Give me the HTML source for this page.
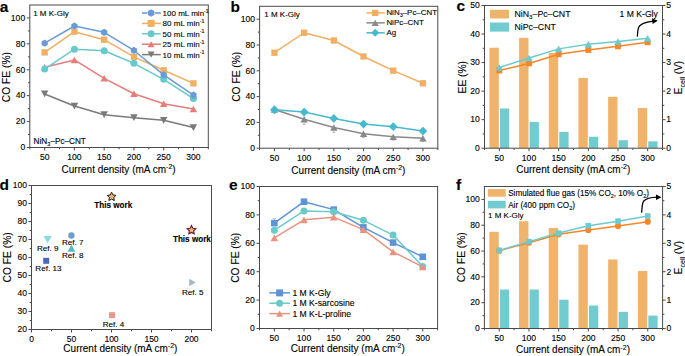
<!DOCTYPE html>
<html><head><meta charset="utf-8"><style>html,body{margin:0;padding:0;background:#fff;width:685px;height:356px;overflow:hidden}svg{display:block}</style></head>
<body><svg width="685" height="356" viewBox="0 0 685 356" font-family="Liberation Sans"><style>text{stroke:#000;stroke-width:0.12px;paint-order:stroke}</style><path d="M44.67,94.00 L74.42,106.05 L104.17,114.72 L133.93,117.70 L163.68,120.30 L193.43,127.55" fill="none" stroke="#7A7A7A" stroke-width="1.5" stroke-linejoin="round"/>
<polygon points="40.92,90.62 48.42,90.62 44.67,97.37" fill="#7A7A7A"/>
<polygon points="70.67,102.67 78.17,102.67 74.42,109.42" fill="#7A7A7A"/>
<polygon points="100.42,111.35 107.92,111.35 104.17,118.10" fill="#7A7A7A"/>
<polygon points="130.18,114.33 137.68,114.33 133.93,121.08" fill="#7A7A7A"/>
<polygon points="159.93,116.92 167.43,116.92 163.68,123.67" fill="#7A7A7A"/>
<polygon points="189.68,124.17 197.18,124.17 193.43,130.93" fill="#7A7A7A"/>
<path d="M44.67,67.18 L74.42,59.93 L104.17,78.32 L133.93,93.74 L163.68,103.71 L193.43,109.03" fill="none" stroke="#E57D7B" stroke-width="1.5" stroke-linejoin="round"/>
<polygon points="40.92,70.44 48.42,70.44 44.67,63.92" fill="#E57D7B"/>
<polygon points="70.67,63.19 78.17,63.19 74.42,56.66" fill="#E57D7B"/>
<polygon points="100.42,81.59 107.92,81.59 104.17,75.06" fill="#E57D7B"/>
<polygon points="130.18,97.00 137.68,97.00 133.93,90.48" fill="#E57D7B"/>
<polygon points="159.93,106.98 167.43,106.98 163.68,100.45" fill="#E57D7B"/>
<polygon points="189.68,112.29 197.18,112.29 193.43,105.76" fill="#E57D7B"/>
<path d="M44.67,69.12 L74.42,49.17 L104.17,50.73 L133.93,63.30 L163.68,79.36 L193.43,98.53" fill="none" stroke="#68C9CC" stroke-width="1.5" stroke-linejoin="round"/>
<circle cx="44.67" cy="69.12" r="3.5" fill="#68C9CC"/>
<circle cx="74.42" cy="49.17" r="3.5" fill="#68C9CC"/>
<circle cx="104.17" cy="50.73" r="3.5" fill="#68C9CC"/>
<circle cx="133.93" cy="63.30" r="3.5" fill="#68C9CC"/>
<circle cx="163.68" cy="79.36" r="3.5" fill="#68C9CC"/>
<circle cx="193.43" cy="98.53" r="3.5" fill="#68C9CC"/>
<path d="M44.67,52.41 L74.42,31.69 L104.17,39.72 L133.93,56.82 L163.68,70.29 L193.43,83.38" fill="none" stroke="#F0AF62" stroke-width="1.5" stroke-linejoin="round"/>
<rect x="41.52" y="49.26" width="6.3" height="6.3" fill="#F0AF62"/>
<rect x="71.27" y="28.54" width="6.3" height="6.3" fill="#F0AF62"/>
<rect x="101.02" y="36.57" width="6.3" height="6.3" fill="#F0AF62"/>
<rect x="130.78" y="53.67" width="6.3" height="6.3" fill="#F0AF62"/>
<rect x="160.53" y="67.14" width="6.3" height="6.3" fill="#F0AF62"/>
<rect x="190.28" y="80.22" width="6.3" height="6.3" fill="#F0AF62"/>
<path d="M44.67,43.22 L74.42,25.99 L104.17,32.33 L133.93,50.47 L163.68,74.95 L193.43,95.03" fill="none" stroke="#6B9BD6" stroke-width="1.5" stroke-linejoin="round"/>
<polygon points="44.67,39.62 41.56,41.42 41.56,45.02 44.67,46.82 47.79,45.02 47.79,41.42" fill="#6B9BD6"/>
<polygon points="74.42,22.39 71.31,24.19 71.31,27.79 74.42,29.59 77.54,27.79 77.54,24.19" fill="#6B9BD6"/>
<polygon points="104.17,28.73 101.06,30.53 101.06,34.13 104.17,35.93 107.29,34.13 107.29,30.53" fill="#6B9BD6"/>
<polygon points="133.93,46.87 130.81,48.67 130.81,52.27 133.93,54.07 137.04,52.27 137.04,48.67" fill="#6B9BD6"/>
<polygon points="163.68,71.35 160.56,73.15 160.56,76.75 163.68,78.55 166.79,76.75 166.79,73.15" fill="#6B9BD6"/>
<polygon points="193.43,91.43 190.31,93.23 190.31,96.83 193.43,98.63 196.54,96.83 196.54,93.23" fill="#6B9BD6"/>
<rect x="29.80" y="5.00" width="178.50" height="142.50" fill="none" stroke="#4a4a4a" stroke-width="1"/>
<line x1="44.67" y1="147.50" x2="44.67" y2="150.50" stroke="#4a4a4a" stroke-width="1"/>
<text x="44.67" y="159.50" font-size="8.6" text-anchor="middle" font-weight="normal" fill="#000" >50</text>
<line x1="74.42" y1="147.50" x2="74.42" y2="150.50" stroke="#4a4a4a" stroke-width="1"/>
<text x="74.42" y="159.50" font-size="8.6" text-anchor="middle" font-weight="normal" fill="#000" >100</text>
<line x1="104.17" y1="147.50" x2="104.17" y2="150.50" stroke="#4a4a4a" stroke-width="1"/>
<text x="104.17" y="159.50" font-size="8.6" text-anchor="middle" font-weight="normal" fill="#000" >150</text>
<line x1="133.93" y1="147.50" x2="133.93" y2="150.50" stroke="#4a4a4a" stroke-width="1"/>
<text x="133.93" y="159.50" font-size="8.6" text-anchor="middle" font-weight="normal" fill="#000" >200</text>
<line x1="163.68" y1="147.50" x2="163.68" y2="150.50" stroke="#4a4a4a" stroke-width="1"/>
<text x="163.68" y="159.50" font-size="8.6" text-anchor="middle" font-weight="normal" fill="#000" >250</text>
<line x1="193.43" y1="147.50" x2="193.43" y2="150.50" stroke="#4a4a4a" stroke-width="1"/>
<text x="193.43" y="159.50" font-size="8.6" text-anchor="middle" font-weight="normal" fill="#000" >300</text>
<line x1="29.80" y1="147.50" x2="29.80" y2="149.30" stroke="#4a4a4a" stroke-width="1"/>
<line x1="59.55" y1="147.50" x2="59.55" y2="149.30" stroke="#4a4a4a" stroke-width="1"/>
<line x1="89.30" y1="147.50" x2="89.30" y2="149.30" stroke="#4a4a4a" stroke-width="1"/>
<line x1="119.05" y1="147.50" x2="119.05" y2="149.30" stroke="#4a4a4a" stroke-width="1"/>
<line x1="148.80" y1="147.50" x2="148.80" y2="149.30" stroke="#4a4a4a" stroke-width="1"/>
<line x1="178.55" y1="147.50" x2="178.55" y2="149.30" stroke="#4a4a4a" stroke-width="1"/>
<line x1="208.30" y1="147.50" x2="208.30" y2="149.30" stroke="#4a4a4a" stroke-width="1"/>
<line x1="26.80" y1="147.50" x2="29.80" y2="147.50" stroke="#4a4a4a" stroke-width="1"/>
<text x="25.20" y="150.30" font-size="8.6" text-anchor="end" font-weight="normal" fill="#000" >0</text>
<line x1="26.80" y1="121.59" x2="29.80" y2="121.59" stroke="#4a4a4a" stroke-width="1"/>
<text x="25.20" y="124.39" font-size="8.6" text-anchor="end" font-weight="normal" fill="#000" >20</text>
<line x1="26.80" y1="95.68" x2="29.80" y2="95.68" stroke="#4a4a4a" stroke-width="1"/>
<text x="25.20" y="98.48" font-size="8.6" text-anchor="end" font-weight="normal" fill="#000" >40</text>
<line x1="26.80" y1="69.77" x2="29.80" y2="69.77" stroke="#4a4a4a" stroke-width="1"/>
<text x="25.20" y="72.57" font-size="8.6" text-anchor="end" font-weight="normal" fill="#000" >60</text>
<line x1="26.80" y1="43.86" x2="29.80" y2="43.86" stroke="#4a4a4a" stroke-width="1"/>
<text x="25.20" y="46.66" font-size="8.6" text-anchor="end" font-weight="normal" fill="#000" >80</text>
<line x1="26.80" y1="17.95" x2="29.80" y2="17.95" stroke="#4a4a4a" stroke-width="1"/>
<text x="25.20" y="20.75" font-size="8.6" text-anchor="end" font-weight="normal" fill="#000" >100</text>
<line x1="28.00" y1="134.55" x2="29.80" y2="134.55" stroke="#4a4a4a" stroke-width="1"/>
<line x1="28.00" y1="108.64" x2="29.80" y2="108.64" stroke="#4a4a4a" stroke-width="1"/>
<line x1="28.00" y1="82.73" x2="29.80" y2="82.73" stroke="#4a4a4a" stroke-width="1"/>
<line x1="28.00" y1="56.82" x2="29.80" y2="56.82" stroke="#4a4a4a" stroke-width="1"/>
<line x1="28.00" y1="30.91" x2="29.80" y2="30.91" stroke="#4a4a4a" stroke-width="1"/>
<text x="118.60" y="172.50" font-size="10" text-anchor="middle">Current density (mA cm<tspan dy="-3.8" font-size="7.00">-2</tspan><tspan dy="3.8">)</tspan></text>
<text transform="translate(10.30,77.10) rotate(-90)" font-size="10.25" text-anchor="middle">CO FE (%)</text>
<text x="33.20" y="15.80" font-size="8" text-anchor="start" font-weight="normal" fill="#000" >1 M K-Gly</text>
<text x="33.60" y="143.60" font-size="8.2" text-anchor="start" font-weight="normal" fill="#000" >NiN<tspan dy="2.3" font-size="5.6">3</tspan><tspan dy="-2.3">–Pc–CNT</tspan></text>
<line x1="142.00" y1="13.00" x2="147.40" y2="13.00" stroke="#6B9BD6" stroke-width="1.6"/>
<line x1="154.90" y1="13.00" x2="160.80" y2="13.00" stroke="#6B9BD6" stroke-width="1.6"/>
<polygon points="151.10,9.20 147.81,11.10 147.81,14.90 151.10,16.80 154.39,14.90 154.39,11.10" fill="#6B9BD6"/>
<text x="162.60" y="15.90" font-size="8" text-anchor="start" font-weight="normal" fill="#000" >100 mL min<tspan dy="-3.4" font-size="5.2">-1</tspan></text>
<line x1="142.00" y1="23.40" x2="160.80" y2="23.40" stroke="#F0AF62" stroke-width="1.5"/>
<rect x="147.60" y="19.90" width="7" height="7" fill="#F0AF62"/>
<text x="162.60" y="26.30" font-size="8" text-anchor="start" font-weight="normal" fill="#000" >80 mL min<tspan dy="-3.4" font-size="5.2">-1</tspan></text>
<line x1="142.00" y1="33.80" x2="160.80" y2="33.80" stroke="#68C9CC" stroke-width="1.5"/>
<circle cx="151.10" cy="33.80" r="3.5" fill="#68C9CC"/>
<text x="162.60" y="36.70" font-size="8" text-anchor="start" font-weight="normal" fill="#000" >50 mL min<tspan dy="-3.4" font-size="5.2">-1</tspan></text>
<line x1="142.00" y1="44.20" x2="160.80" y2="44.20" stroke="#E57D7B" stroke-width="1.5"/>
<polygon points="147.60,47.25 154.60,47.25 151.10,41.16" fill="#E57D7B"/>
<text x="162.60" y="47.10" font-size="8" text-anchor="start" font-weight="normal" fill="#000" >25 mL min<tspan dy="-3.4" font-size="5.2">-1</tspan></text>
<line x1="142.00" y1="54.60" x2="160.80" y2="54.60" stroke="#7A7A7A" stroke-width="1.5"/>
<polygon points="147.60,51.45 154.60,51.45 151.10,57.75" fill="#7A7A7A"/>
<text x="162.60" y="57.50" font-size="8" text-anchor="start" font-weight="normal" fill="#000" >10 mL min<tspan dy="-3.4" font-size="5.2">-1</tspan></text>
<text x="-0.30" y="11.50" font-size="15.5" text-anchor="start" font-weight="bold" fill="#000" >a</text>
<line x1="304.15" y1="119.17" x2="304.15" y2="124.32" stroke="#B4B4B4" stroke-width="0.9"/>
<line x1="302.55" y1="124.32" x2="305.75" y2="124.32" stroke="#B4B4B4" stroke-width="0.9"/>
<line x1="333.85" y1="127.56" x2="333.85" y2="132.45" stroke="#B4B4B4" stroke-width="0.9"/>
<line x1="332.25" y1="132.45" x2="335.45" y2="132.45" stroke="#B4B4B4" stroke-width="0.9"/>
<line x1="363.55" y1="133.75" x2="363.55" y2="137.61" stroke="#B4B4B4" stroke-width="0.9"/>
<line x1="361.95" y1="137.61" x2="365.15" y2="137.61" stroke="#B4B4B4" stroke-width="0.9"/>
<line x1="393.25" y1="136.85" x2="393.25" y2="140.19" stroke="#B4B4B4" stroke-width="0.9"/>
<line x1="391.65" y1="140.19" x2="394.85" y2="140.19" stroke="#B4B4B4" stroke-width="0.9"/>
<line x1="422.95" y1="138.27" x2="422.95" y2="141.35" stroke="#B4B4B4" stroke-width="0.9"/>
<line x1="421.35" y1="141.35" x2="424.55" y2="141.35" stroke="#B4B4B4" stroke-width="0.9"/>
<path d="M274.45,109.50 L304.15,119.17 L333.85,127.56 L363.55,133.75 L393.25,136.85 L422.95,138.27" fill="none" stroke="#8A8A8A" stroke-width="1.5" stroke-linejoin="round"/>
<polygon points="270.75,112.72 278.15,112.72 274.45,106.28" fill="#8A8A8A"/>
<polygon points="300.45,122.39 307.85,122.39 304.15,115.96" fill="#8A8A8A"/>
<polygon points="330.15,130.78 337.55,130.78 333.85,124.34" fill="#8A8A8A"/>
<polygon points="359.85,136.97 367.25,136.97 363.55,130.53" fill="#8A8A8A"/>
<polygon points="389.55,140.07 396.95,140.07 393.25,133.63" fill="#8A8A8A"/>
<polygon points="419.25,141.49 426.65,141.49 422.95,135.05" fill="#8A8A8A"/>
<path d="M274.45,52.74 L304.15,32.75 L333.85,40.49 L363.55,56.48 L393.25,70.67 L422.95,83.31" fill="none" stroke="#F0AF62" stroke-width="1.5" stroke-linejoin="round"/>
<rect x="271.30" y="49.59" width="6.3" height="6.3" fill="#F0AF62"/>
<rect x="301.00" y="29.60" width="6.3" height="6.3" fill="#F0AF62"/>
<rect x="330.70" y="37.34" width="6.3" height="6.3" fill="#F0AF62"/>
<rect x="360.40" y="53.33" width="6.3" height="6.3" fill="#F0AF62"/>
<rect x="390.10" y="67.52" width="6.3" height="6.3" fill="#F0AF62"/>
<rect x="419.80" y="80.16" width="6.3" height="6.3" fill="#F0AF62"/>
<path d="M274.45,109.76 L304.15,112.08 L333.85,118.40 L363.55,124.08 L393.25,126.66 L422.95,131.04" fill="none" stroke="#47B8CE" stroke-width="1.5" stroke-linejoin="round"/>
<polygon points="274.45,105.36 278.85,109.76 274.45,114.16 270.05,109.76" fill="#47B8CE"/>
<polygon points="304.15,107.68 308.55,112.08 304.15,116.48 299.75,112.08" fill="#47B8CE"/>
<polygon points="333.85,114.00 338.25,118.40 333.85,122.80 329.45,118.40" fill="#47B8CE"/>
<polygon points="363.55,119.68 367.95,124.08 363.55,128.48 359.15,124.08" fill="#47B8CE"/>
<polygon points="393.25,122.26 397.65,126.66 393.25,131.06 388.85,126.66" fill="#47B8CE"/>
<polygon points="422.95,126.64 427.35,131.04 422.95,135.44 418.55,131.04" fill="#47B8CE"/>
<rect x="259.60" y="6.30" width="178.20" height="141.90" fill="none" stroke="#4a4a4a" stroke-width="1"/>
<line x1="274.45" y1="148.20" x2="274.45" y2="151.20" stroke="#4a4a4a" stroke-width="1"/>
<text x="274.45" y="160.70" font-size="8.6" text-anchor="middle" font-weight="normal" fill="#000" >50</text>
<line x1="304.15" y1="148.20" x2="304.15" y2="151.20" stroke="#4a4a4a" stroke-width="1"/>
<text x="304.15" y="160.70" font-size="8.6" text-anchor="middle" font-weight="normal" fill="#000" >100</text>
<line x1="333.85" y1="148.20" x2="333.85" y2="151.20" stroke="#4a4a4a" stroke-width="1"/>
<text x="333.85" y="160.70" font-size="8.6" text-anchor="middle" font-weight="normal" fill="#000" >150</text>
<line x1="363.55" y1="148.20" x2="363.55" y2="151.20" stroke="#4a4a4a" stroke-width="1"/>
<text x="363.55" y="160.70" font-size="8.6" text-anchor="middle" font-weight="normal" fill="#000" >200</text>
<line x1="393.25" y1="148.20" x2="393.25" y2="151.20" stroke="#4a4a4a" stroke-width="1"/>
<text x="393.25" y="160.70" font-size="8.6" text-anchor="middle" font-weight="normal" fill="#000" >250</text>
<line x1="422.95" y1="148.20" x2="422.95" y2="151.20" stroke="#4a4a4a" stroke-width="1"/>
<text x="422.95" y="160.70" font-size="8.6" text-anchor="middle" font-weight="normal" fill="#000" >300</text>
<line x1="259.60" y1="148.20" x2="259.60" y2="150.00" stroke="#4a4a4a" stroke-width="1"/>
<line x1="289.30" y1="148.20" x2="289.30" y2="150.00" stroke="#4a4a4a" stroke-width="1"/>
<line x1="319.00" y1="148.20" x2="319.00" y2="150.00" stroke="#4a4a4a" stroke-width="1"/>
<line x1="348.70" y1="148.20" x2="348.70" y2="150.00" stroke="#4a4a4a" stroke-width="1"/>
<line x1="378.40" y1="148.20" x2="378.40" y2="150.00" stroke="#4a4a4a" stroke-width="1"/>
<line x1="408.10" y1="148.20" x2="408.10" y2="150.00" stroke="#4a4a4a" stroke-width="1"/>
<line x1="437.80" y1="148.20" x2="437.80" y2="150.00" stroke="#4a4a4a" stroke-width="1"/>
<line x1="256.60" y1="148.20" x2="259.60" y2="148.20" stroke="#4a4a4a" stroke-width="1"/>
<text x="255.00" y="151.00" font-size="8.6" text-anchor="end" font-weight="normal" fill="#000" >0</text>
<line x1="256.60" y1="122.40" x2="259.60" y2="122.40" stroke="#4a4a4a" stroke-width="1"/>
<text x="255.00" y="125.20" font-size="8.6" text-anchor="end" font-weight="normal" fill="#000" >20</text>
<line x1="256.60" y1="96.60" x2="259.60" y2="96.60" stroke="#4a4a4a" stroke-width="1"/>
<text x="255.00" y="99.40" font-size="8.6" text-anchor="end" font-weight="normal" fill="#000" >40</text>
<line x1="256.60" y1="70.80" x2="259.60" y2="70.80" stroke="#4a4a4a" stroke-width="1"/>
<text x="255.00" y="73.60" font-size="8.6" text-anchor="end" font-weight="normal" fill="#000" >60</text>
<line x1="256.60" y1="45.00" x2="259.60" y2="45.00" stroke="#4a4a4a" stroke-width="1"/>
<text x="255.00" y="47.80" font-size="8.6" text-anchor="end" font-weight="normal" fill="#000" >80</text>
<line x1="256.60" y1="19.20" x2="259.60" y2="19.20" stroke="#4a4a4a" stroke-width="1"/>
<text x="255.00" y="22.00" font-size="8.6" text-anchor="end" font-weight="normal" fill="#000" >100</text>
<line x1="257.80" y1="135.30" x2="259.60" y2="135.30" stroke="#4a4a4a" stroke-width="1"/>
<line x1="257.80" y1="109.50" x2="259.60" y2="109.50" stroke="#4a4a4a" stroke-width="1"/>
<line x1="257.80" y1="83.70" x2="259.60" y2="83.70" stroke="#4a4a4a" stroke-width="1"/>
<line x1="257.80" y1="57.90" x2="259.60" y2="57.90" stroke="#4a4a4a" stroke-width="1"/>
<line x1="257.80" y1="32.10" x2="259.60" y2="32.10" stroke="#4a4a4a" stroke-width="1"/>
<text x="348.40" y="174.10" font-size="10" text-anchor="middle">Current density (mA cm<tspan dy="-3.8" font-size="7.00">-2</tspan><tspan dy="3.8">)</tspan></text>
<text transform="translate(239.60,76.80) rotate(-90)" font-size="10.25" text-anchor="middle">CO FE (%)</text>
<text x="264.30" y="16.60" font-size="8" text-anchor="start" font-weight="normal" fill="#000" >1 M K-Gly</text>
<line x1="366.40" y1="12.90" x2="384.80" y2="12.90" stroke="#F0AF62" stroke-width="1.5"/>
<rect x="372.05" y="9.75" width="6.3" height="6.3" fill="#F0AF62"/>
<text x="386.40" y="15.40" font-size="7.95" text-anchor="start" font-weight="normal" fill="#000" >NiN<tspan dy="2" font-size="5.5">3</tspan><tspan dy="-2">–Pc–CNT</tspan></text>
<line x1="366.40" y1="22.85" x2="384.80" y2="22.85" stroke="#8A8A8A" stroke-width="1.5"/>
<polygon points="371.60,25.98 378.80,25.98 375.20,19.72" fill="#8A8A8A"/>
<text x="386.40" y="25.35" font-size="7.95" text-anchor="start" font-weight="normal" fill="#000" >NiPc–CNT</text>
<line x1="366.40" y1="32.80" x2="384.80" y2="32.80" stroke="#47B8CE" stroke-width="1.5"/>
<polygon points="375.20,28.80 379.20,32.80 375.20,36.80 371.20,32.80" fill="#47B8CE"/>
<text x="386.40" y="35.30" font-size="7.95" text-anchor="start" font-weight="normal" fill="#000" >Ag</text>
<text x="230.50" y="11.50" font-size="15.5" text-anchor="start" font-weight="bold" fill="#000" >b</text>
<rect x="489.43" y="47.74" width="9.4" height="100.46" fill="#EFB36C"/>
<rect x="519.10" y="37.75" width="9.4" height="110.45" fill="#EFB36C"/>
<rect x="548.77" y="52.88" width="9.4" height="95.32" fill="#EFB36C"/>
<rect x="578.43" y="77.99" width="9.4" height="70.21" fill="#EFB36C"/>
<rect x="608.10" y="96.83" width="9.4" height="51.37" fill="#EFB36C"/>
<rect x="637.77" y="107.96" width="9.4" height="40.24" fill="#EFB36C"/>
<rect x="499.93" y="108.53" width="9.3" height="39.67" fill="#72CBCF"/>
<rect x="529.60" y="121.94" width="9.3" height="26.26" fill="#72CBCF"/>
<rect x="559.27" y="131.93" width="9.3" height="16.27" fill="#72CBCF"/>
<rect x="588.93" y="136.78" width="9.3" height="11.42" fill="#72CBCF"/>
<rect x="618.60" y="140.21" width="9.3" height="7.99" fill="#72CBCF"/>
<rect x="648.27" y="141.35" width="9.3" height="6.85" fill="#72CBCF"/>
<path d="M499.33,70.57 L529.00,63.44 L558.67,54.30 L588.33,50.02 L618.00,46.31 L647.67,42.32" fill="none" stroke="#F5862A" stroke-width="1.5" stroke-linejoin="round"/>
<rect x="496.43" y="67.67" width="5.8" height="5.8" fill="#F5862A"/>
<rect x="526.10" y="60.54" width="5.8" height="5.8" fill="#F5862A"/>
<rect x="555.77" y="51.40" width="5.8" height="5.8" fill="#F5862A"/>
<rect x="585.43" y="47.12" width="5.8" height="5.8" fill="#F5862A"/>
<rect x="615.10" y="43.41" width="5.8" height="5.8" fill="#F5862A"/>
<rect x="644.77" y="39.42" width="5.8" height="5.8" fill="#F5862A"/>
<path d="M499.33,67.43 L529.00,58.01 L558.67,48.88 L588.33,44.31 L618.00,41.46 L647.67,38.32" fill="none" stroke="#6DCACF" stroke-width="1.5" stroke-linejoin="round"/>
<polygon points="495.53,70.74 503.13,70.74 499.33,64.13" fill="#6DCACF"/>
<polygon points="525.20,61.32 532.80,61.32 529.00,54.71" fill="#6DCACF"/>
<polygon points="554.87,52.19 562.47,52.19 558.67,45.57" fill="#6DCACF"/>
<polygon points="584.53,47.62 592.13,47.62 588.33,41.01" fill="#6DCACF"/>
<polygon points="614.20,44.77 621.80,44.77 618.00,38.15" fill="#6DCACF"/>
<polygon points="643.87,41.63 651.47,41.63 647.67,35.02" fill="#6DCACF"/>
<rect x="484.50" y="5.50" width="178.00" height="142.70" fill="none" stroke="#4a4a4a" stroke-width="1"/>
<line x1="499.33" y1="148.20" x2="499.33" y2="151.20" stroke="#4a4a4a" stroke-width="1"/>
<text x="499.33" y="160.70" font-size="8.6" text-anchor="middle" font-weight="normal" fill="#000" >50</text>
<line x1="529.00" y1="148.20" x2="529.00" y2="151.20" stroke="#4a4a4a" stroke-width="1"/>
<text x="529.00" y="160.70" font-size="8.6" text-anchor="middle" font-weight="normal" fill="#000" >100</text>
<line x1="558.67" y1="148.20" x2="558.67" y2="151.20" stroke="#4a4a4a" stroke-width="1"/>
<text x="558.67" y="160.70" font-size="8.6" text-anchor="middle" font-weight="normal" fill="#000" >150</text>
<line x1="588.33" y1="148.20" x2="588.33" y2="151.20" stroke="#4a4a4a" stroke-width="1"/>
<text x="588.33" y="160.70" font-size="8.6" text-anchor="middle" font-weight="normal" fill="#000" >200</text>
<line x1="618.00" y1="148.20" x2="618.00" y2="151.20" stroke="#4a4a4a" stroke-width="1"/>
<text x="618.00" y="160.70" font-size="8.6" text-anchor="middle" font-weight="normal" fill="#000" >250</text>
<line x1="647.67" y1="148.20" x2="647.67" y2="151.20" stroke="#4a4a4a" stroke-width="1"/>
<text x="647.67" y="160.70" font-size="8.6" text-anchor="middle" font-weight="normal" fill="#000" >300</text>
<line x1="484.50" y1="148.20" x2="484.50" y2="150.00" stroke="#4a4a4a" stroke-width="1"/>
<line x1="514.17" y1="148.20" x2="514.17" y2="150.00" stroke="#4a4a4a" stroke-width="1"/>
<line x1="543.83" y1="148.20" x2="543.83" y2="150.00" stroke="#4a4a4a" stroke-width="1"/>
<line x1="573.50" y1="148.20" x2="573.50" y2="150.00" stroke="#4a4a4a" stroke-width="1"/>
<line x1="603.17" y1="148.20" x2="603.17" y2="150.00" stroke="#4a4a4a" stroke-width="1"/>
<line x1="632.83" y1="148.20" x2="632.83" y2="150.00" stroke="#4a4a4a" stroke-width="1"/>
<line x1="662.50" y1="148.20" x2="662.50" y2="150.00" stroke="#4a4a4a" stroke-width="1"/>
<line x1="481.50" y1="148.20" x2="484.50" y2="148.20" stroke="#4a4a4a" stroke-width="1"/>
<text x="479.90" y="151.00" font-size="8.6" text-anchor="end" font-weight="normal" fill="#000" >0</text>
<line x1="481.50" y1="119.66" x2="484.50" y2="119.66" stroke="#4a4a4a" stroke-width="1"/>
<text x="479.90" y="122.46" font-size="8.6" text-anchor="end" font-weight="normal" fill="#000" >10</text>
<line x1="481.50" y1="91.12" x2="484.50" y2="91.12" stroke="#4a4a4a" stroke-width="1"/>
<text x="479.90" y="93.92" font-size="8.6" text-anchor="end" font-weight="normal" fill="#000" >20</text>
<line x1="481.50" y1="62.58" x2="484.50" y2="62.58" stroke="#4a4a4a" stroke-width="1"/>
<text x="479.90" y="65.38" font-size="8.6" text-anchor="end" font-weight="normal" fill="#000" >30</text>
<line x1="481.50" y1="34.04" x2="484.50" y2="34.04" stroke="#4a4a4a" stroke-width="1"/>
<text x="479.90" y="36.84" font-size="8.6" text-anchor="end" font-weight="normal" fill="#000" >40</text>
<line x1="481.50" y1="5.50" x2="484.50" y2="5.50" stroke="#4a4a4a" stroke-width="1"/>
<text x="479.90" y="8.30" font-size="8.6" text-anchor="end" font-weight="normal" fill="#000" >50</text>
<line x1="482.70" y1="133.93" x2="484.50" y2="133.93" stroke="#4a4a4a" stroke-width="1"/>
<line x1="482.70" y1="105.39" x2="484.50" y2="105.39" stroke="#4a4a4a" stroke-width="1"/>
<line x1="482.70" y1="76.85" x2="484.50" y2="76.85" stroke="#4a4a4a" stroke-width="1"/>
<line x1="482.70" y1="48.31" x2="484.50" y2="48.31" stroke="#4a4a4a" stroke-width="1"/>
<line x1="482.70" y1="19.77" x2="484.50" y2="19.77" stroke="#4a4a4a" stroke-width="1"/>
<line x1="662.50" y1="148.20" x2="665.50" y2="148.20" stroke="#4a4a4a" stroke-width="1"/>
<text x="666.30" y="151.00" font-size="8.6" text-anchor="start" font-weight="normal" fill="#000" >0</text>
<line x1="662.50" y1="119.66" x2="665.50" y2="119.66" stroke="#4a4a4a" stroke-width="1"/>
<text x="666.30" y="122.46" font-size="8.6" text-anchor="start" font-weight="normal" fill="#000" >1</text>
<line x1="662.50" y1="91.12" x2="665.50" y2="91.12" stroke="#4a4a4a" stroke-width="1"/>
<text x="666.30" y="93.92" font-size="8.6" text-anchor="start" font-weight="normal" fill="#000" >2</text>
<line x1="662.50" y1="62.58" x2="665.50" y2="62.58" stroke="#4a4a4a" stroke-width="1"/>
<text x="666.30" y="65.38" font-size="8.6" text-anchor="start" font-weight="normal" fill="#000" >3</text>
<line x1="662.50" y1="34.04" x2="665.50" y2="34.04" stroke="#4a4a4a" stroke-width="1"/>
<text x="666.30" y="36.84" font-size="8.6" text-anchor="start" font-weight="normal" fill="#000" >4</text>
<line x1="662.50" y1="5.50" x2="665.50" y2="5.50" stroke="#4a4a4a" stroke-width="1"/>
<text x="666.30" y="8.30" font-size="8.6" text-anchor="start" font-weight="normal" fill="#000" >5</text>
<line x1="662.50" y1="133.93" x2="664.30" y2="133.93" stroke="#4a4a4a" stroke-width="1"/>
<line x1="662.50" y1="105.39" x2="664.30" y2="105.39" stroke="#4a4a4a" stroke-width="1"/>
<line x1="662.50" y1="76.85" x2="664.30" y2="76.85" stroke="#4a4a4a" stroke-width="1"/>
<line x1="662.50" y1="48.31" x2="664.30" y2="48.31" stroke="#4a4a4a" stroke-width="1"/>
<line x1="662.50" y1="19.77" x2="664.30" y2="19.77" stroke="#4a4a4a" stroke-width="1"/>
<text x="573.20" y="172.50" font-size="10" text-anchor="middle">Current density (mA cm<tspan dy="-3.8" font-size="7.00">-2</tspan><tspan dy="3.8">)</tspan></text>
<text transform="translate(465.60,77.20) rotate(-90)" font-size="10.25" text-anchor="middle">EE (%)</text>
<text transform="translate(682,77.5) rotate(-90)" font-size="10" text-anchor="middle">E<tspan dy="2.5" font-size="7">cell</tspan><tspan dy="-2.5"> (V)</tspan></text>
<rect x="490" y="9.8" width="19" height="8.7" fill="#EFB36C"/>
<rect x="490" y="22.5" width="19" height="9.1" fill="#72CBCF"/>
<text x="514.50" y="17.20" font-size="8.75" text-anchor="start" font-weight="normal" fill="#000" >NiN<tspan dy="2.2" font-size="6.2">3</tspan><tspan dy="-2.2">–Pc–CNT</tspan></text>
<text x="514.50" y="29.90" font-size="8.75" text-anchor="start" font-weight="normal" fill="#000" >NiPc–CNT</text>
<text x="619.60" y="16.70" font-size="8.6" text-anchor="start" font-weight="normal" fill="#000" >1 M K-Gly</text>
<path d="M637.3,36.6 C637.9,32 637.4,28.5 639.5,26 C642.5,22.8 647,21.8 653.5,21.1" fill="none" stroke="#000" stroke-width="1.25"/>
<polygon points="657.8,20.7 652,18.2 652.6,24" fill="#000"/>
<text x="456.50" y="11.30" font-size="15.5" text-anchor="start" font-weight="bold" fill="#000" >c</text>
<rect x="31.50" y="185.50" width="180.00" height="144.00" fill="none" stroke="#4a4a4a" stroke-width="1"/>
<line x1="31.50" y1="329.50" x2="31.50" y2="332.50" stroke="#4a4a4a" stroke-width="1"/>
<text x="31.50" y="342.00" font-size="8.5" text-anchor="middle" font-weight="normal" fill="#000" >0</text>
<line x1="71.50" y1="329.50" x2="71.50" y2="332.50" stroke="#4a4a4a" stroke-width="1"/>
<text x="71.50" y="342.00" font-size="8.5" text-anchor="middle" font-weight="normal" fill="#000" >50</text>
<line x1="111.50" y1="329.50" x2="111.50" y2="332.50" stroke="#4a4a4a" stroke-width="1"/>
<text x="111.50" y="342.00" font-size="8.5" text-anchor="middle" font-weight="normal" fill="#000" >100</text>
<line x1="151.50" y1="329.50" x2="151.50" y2="332.50" stroke="#4a4a4a" stroke-width="1"/>
<text x="151.50" y="342.00" font-size="8.5" text-anchor="middle" font-weight="normal" fill="#000" >150</text>
<line x1="191.50" y1="329.50" x2="191.50" y2="332.50" stroke="#4a4a4a" stroke-width="1"/>
<text x="191.50" y="342.00" font-size="8.5" text-anchor="middle" font-weight="normal" fill="#000" >200</text>
<line x1="51.50" y1="329.50" x2="51.50" y2="331.30" stroke="#4a4a4a" stroke-width="1"/>
<line x1="91.50" y1="329.50" x2="91.50" y2="331.30" stroke="#4a4a4a" stroke-width="1"/>
<line x1="131.50" y1="329.50" x2="131.50" y2="331.30" stroke="#4a4a4a" stroke-width="1"/>
<line x1="171.50" y1="329.50" x2="171.50" y2="331.30" stroke="#4a4a4a" stroke-width="1"/>
<line x1="211.50" y1="329.50" x2="211.50" y2="331.30" stroke="#4a4a4a" stroke-width="1"/>
<line x1="28.50" y1="329.50" x2="31.50" y2="329.50" stroke="#4a4a4a" stroke-width="1"/>
<text x="26.90" y="332.30" font-size="8.5" text-anchor="end" font-weight="normal" fill="#000" >20</text>
<line x1="28.50" y1="311.50" x2="31.50" y2="311.50" stroke="#4a4a4a" stroke-width="1"/>
<text x="26.90" y="314.30" font-size="8.5" text-anchor="end" font-weight="normal" fill="#000" >30</text>
<line x1="28.50" y1="293.50" x2="31.50" y2="293.50" stroke="#4a4a4a" stroke-width="1"/>
<text x="26.90" y="296.30" font-size="8.5" text-anchor="end" font-weight="normal" fill="#000" >40</text>
<line x1="28.50" y1="275.50" x2="31.50" y2="275.50" stroke="#4a4a4a" stroke-width="1"/>
<text x="26.90" y="278.30" font-size="8.5" text-anchor="end" font-weight="normal" fill="#000" >50</text>
<line x1="28.50" y1="257.50" x2="31.50" y2="257.50" stroke="#4a4a4a" stroke-width="1"/>
<text x="26.90" y="260.30" font-size="8.5" text-anchor="end" font-weight="normal" fill="#000" >60</text>
<line x1="28.50" y1="239.50" x2="31.50" y2="239.50" stroke="#4a4a4a" stroke-width="1"/>
<text x="26.90" y="242.30" font-size="8.5" text-anchor="end" font-weight="normal" fill="#000" >70</text>
<line x1="28.50" y1="221.50" x2="31.50" y2="221.50" stroke="#4a4a4a" stroke-width="1"/>
<text x="26.90" y="224.30" font-size="8.5" text-anchor="end" font-weight="normal" fill="#000" >80</text>
<line x1="28.50" y1="203.50" x2="31.50" y2="203.50" stroke="#4a4a4a" stroke-width="1"/>
<text x="26.90" y="206.30" font-size="8.5" text-anchor="end" font-weight="normal" fill="#000" >90</text>
<line x1="28.50" y1="185.50" x2="31.50" y2="185.50" stroke="#4a4a4a" stroke-width="1"/>
<text x="26.90" y="188.30" font-size="8.5" text-anchor="end" font-weight="normal" fill="#000" >100</text>
<line x1="29.70" y1="320.50" x2="31.50" y2="320.50" stroke="#4a4a4a" stroke-width="1"/>
<line x1="29.70" y1="302.50" x2="31.50" y2="302.50" stroke="#4a4a4a" stroke-width="1"/>
<line x1="29.70" y1="284.50" x2="31.50" y2="284.50" stroke="#4a4a4a" stroke-width="1"/>
<line x1="29.70" y1="266.50" x2="31.50" y2="266.50" stroke="#4a4a4a" stroke-width="1"/>
<line x1="29.70" y1="248.50" x2="31.50" y2="248.50" stroke="#4a4a4a" stroke-width="1"/>
<line x1="29.70" y1="230.50" x2="31.50" y2="230.50" stroke="#4a4a4a" stroke-width="1"/>
<line x1="29.70" y1="212.50" x2="31.50" y2="212.50" stroke="#4a4a4a" stroke-width="1"/>
<line x1="29.70" y1="194.50" x2="31.50" y2="194.50" stroke="#4a4a4a" stroke-width="1"/>
<text x="120.40" y="351.70" font-size="10" text-anchor="middle">Current density (mA cm<tspan dy="-3.8" font-size="7.00">-2</tspan><tspan dy="3.8">)</tspan></text>
<text transform="translate(10.80,257.40) rotate(-90)" font-size="10.25" text-anchor="middle">CO FE (%)</text>
<polygon points="111.60,192.20 110.25,194.94 107.23,195.38 109.41,197.51 108.90,200.52 111.60,199.10 114.30,200.52 113.79,197.51 115.97,195.38 112.95,194.94" fill="#F3B468" stroke="#1a1a1a" stroke-width="1" stroke-linejoin="miter"/>
<text x="113.30" y="208.00" font-size="8.15" text-anchor="middle" font-weight="bold" fill="#000" >This work</text>
<polygon points="191.50,225.50 190.15,228.24 187.13,228.68 189.31,230.81 188.80,233.82 191.50,232.40 194.20,233.82 193.69,230.81 195.87,228.68 192.85,228.24" fill="#F3B468" stroke="#641838" stroke-width="1.1" stroke-linejoin="miter"/>
<text x="191.90" y="241.50" font-size="8.15" text-anchor="middle" font-weight="bold" fill="#000" >This work</text>
<circle cx="71.40" cy="235.50" r="3.2" fill="#6EA0C8"/>
<polygon points="67.40,251.68 75.40,251.68 71.40,244.72" fill="#52BEBE"/>
<polygon points="43.40,236.02 51.80,236.02 47.60,243.58" fill="#8CDCE0"/>
<rect x="43.20" y="257.80" width="6" height="6" fill="#4A68B4"/>
<polygon points="189.17,278.80 189.17,286.20 195.83,282.50" fill="#A0B9C8"/>
<rect x="109.00" y="312.20" width="6" height="6" fill="#E8968C"/>
<text x="62.00" y="244.70" font-size="8.1" text-anchor="start" font-weight="normal" fill="#000" >Ref. 7</text>
<text x="62.00" y="258.00" font-size="8.1" text-anchor="start" font-weight="normal" fill="#000" >Ref. 8</text>
<text x="37.00" y="251.00" font-size="8.1" text-anchor="start" font-weight="normal" fill="#000" >Ref. 9</text>
<text x="35.30" y="271.40" font-size="8.1" text-anchor="start" font-weight="normal" fill="#000" >Ref. 13</text>
<text x="181.90" y="294.60" font-size="8.1" text-anchor="start" font-weight="normal" fill="#000" >Ref. 5</text>
<text x="102.70" y="326.50" font-size="8.1" text-anchor="start" font-weight="normal" fill="#000" >Ref. 4</text>
<text x="-0.50" y="189.50" font-size="15.5" text-anchor="start" font-weight="bold" fill="#000" >d</text>
<line x1="274.34" y1="223.14" x2="274.34" y2="218.45" stroke="#A8C4EA" stroke-width="0.9"/>
<line x1="272.74" y1="218.45" x2="275.94" y2="218.45" stroke="#A8C4EA" stroke-width="0.9"/>
<path d="M274.34,223.14 L304.02,201.69 L333.71,209.65 L363.39,227.40 L393.08,242.59 L422.76,256.79" fill="none" stroke="#5E93D8" stroke-width="1.5" stroke-linejoin="round"/>
<rect x="271.04" y="219.84" width="6.6" height="6.6" fill="#5E93D8"/>
<rect x="300.72" y="198.39" width="6.6" height="6.6" fill="#5E93D8"/>
<rect x="330.41" y="206.35" width="6.6" height="6.6" fill="#5E93D8"/>
<rect x="360.09" y="224.10" width="6.6" height="6.6" fill="#5E93D8"/>
<rect x="389.78" y="239.29" width="6.6" height="6.6" fill="#5E93D8"/>
<rect x="419.46" y="253.49" width="6.6" height="6.6" fill="#5E93D8"/>
<path d="M274.34,230.24 L304.02,210.92 L333.71,211.78 L363.39,220.30 L393.08,235.06 L422.76,266.59" fill="none" stroke="#6ACACA" stroke-width="1.5" stroke-linejoin="round"/>
<circle cx="274.34" cy="230.24" r="3.5" fill="#6ACACA"/>
<circle cx="304.02" cy="210.92" r="3.5" fill="#6ACACA"/>
<circle cx="333.71" cy="211.78" r="3.5" fill="#6ACACA"/>
<circle cx="363.39" cy="220.30" r="3.5" fill="#6ACACA"/>
<circle cx="393.08" cy="235.06" r="3.5" fill="#6ACACA"/>
<circle cx="422.76" cy="266.59" r="3.5" fill="#6ACACA"/>
<path d="M274.34,237.90 L304.02,219.87 L333.71,217.17 L363.39,229.67 L393.08,251.82 L422.76,266.87" fill="none" stroke="#E8937F" stroke-width="1.5" stroke-linejoin="round"/>
<polygon points="270.54,241.21 278.14,241.21 274.34,234.60" fill="#E8937F"/>
<polygon points="300.22,223.18 307.82,223.18 304.02,216.56" fill="#E8937F"/>
<polygon points="329.91,220.48 337.51,220.48 333.71,213.87" fill="#E8937F"/>
<polygon points="359.59,232.97 367.19,232.97 363.39,226.36" fill="#E8937F"/>
<polygon points="389.28,255.13 396.88,255.13 393.08,248.51" fill="#E8937F"/>
<polygon points="418.96,270.18 426.56,270.18 422.76,263.57" fill="#E8937F"/>
<rect x="259.50" y="186.50" width="178.10" height="142.00" fill="none" stroke="#4a4a4a" stroke-width="1"/>
<line x1="274.34" y1="328.50" x2="274.34" y2="331.50" stroke="#4a4a4a" stroke-width="1"/>
<text x="274.34" y="341.00" font-size="8.6" text-anchor="middle" font-weight="normal" fill="#000" >50</text>
<line x1="304.02" y1="328.50" x2="304.02" y2="331.50" stroke="#4a4a4a" stroke-width="1"/>
<text x="304.02" y="341.00" font-size="8.6" text-anchor="middle" font-weight="normal" fill="#000" >100</text>
<line x1="333.71" y1="328.50" x2="333.71" y2="331.50" stroke="#4a4a4a" stroke-width="1"/>
<text x="333.71" y="341.00" font-size="8.6" text-anchor="middle" font-weight="normal" fill="#000" >150</text>
<line x1="363.39" y1="328.50" x2="363.39" y2="331.50" stroke="#4a4a4a" stroke-width="1"/>
<text x="363.39" y="341.00" font-size="8.6" text-anchor="middle" font-weight="normal" fill="#000" >200</text>
<line x1="393.08" y1="328.50" x2="393.08" y2="331.50" stroke="#4a4a4a" stroke-width="1"/>
<text x="393.08" y="341.00" font-size="8.6" text-anchor="middle" font-weight="normal" fill="#000" >250</text>
<line x1="422.76" y1="328.50" x2="422.76" y2="331.50" stroke="#4a4a4a" stroke-width="1"/>
<text x="422.76" y="341.00" font-size="8.6" text-anchor="middle" font-weight="normal" fill="#000" >300</text>
<line x1="259.50" y1="328.50" x2="259.50" y2="330.30" stroke="#4a4a4a" stroke-width="1"/>
<line x1="289.18" y1="328.50" x2="289.18" y2="330.30" stroke="#4a4a4a" stroke-width="1"/>
<line x1="318.87" y1="328.50" x2="318.87" y2="330.30" stroke="#4a4a4a" stroke-width="1"/>
<line x1="348.55" y1="328.50" x2="348.55" y2="330.30" stroke="#4a4a4a" stroke-width="1"/>
<line x1="378.23" y1="328.50" x2="378.23" y2="330.30" stroke="#4a4a4a" stroke-width="1"/>
<line x1="407.92" y1="328.50" x2="407.92" y2="330.30" stroke="#4a4a4a" stroke-width="1"/>
<line x1="437.60" y1="328.50" x2="437.60" y2="330.30" stroke="#4a4a4a" stroke-width="1"/>
<line x1="256.50" y1="328.50" x2="259.50" y2="328.50" stroke="#4a4a4a" stroke-width="1"/>
<text x="254.90" y="331.30" font-size="8.6" text-anchor="end" font-weight="normal" fill="#000" >0</text>
<line x1="256.50" y1="300.10" x2="259.50" y2="300.10" stroke="#4a4a4a" stroke-width="1"/>
<text x="254.90" y="302.90" font-size="8.6" text-anchor="end" font-weight="normal" fill="#000" >20</text>
<line x1="256.50" y1="271.70" x2="259.50" y2="271.70" stroke="#4a4a4a" stroke-width="1"/>
<text x="254.90" y="274.50" font-size="8.6" text-anchor="end" font-weight="normal" fill="#000" >40</text>
<line x1="256.50" y1="243.30" x2="259.50" y2="243.30" stroke="#4a4a4a" stroke-width="1"/>
<text x="254.90" y="246.10" font-size="8.6" text-anchor="end" font-weight="normal" fill="#000" >60</text>
<line x1="256.50" y1="214.90" x2="259.50" y2="214.90" stroke="#4a4a4a" stroke-width="1"/>
<text x="254.90" y="217.70" font-size="8.6" text-anchor="end" font-weight="normal" fill="#000" >80</text>
<line x1="256.50" y1="186.50" x2="259.50" y2="186.50" stroke="#4a4a4a" stroke-width="1"/>
<text x="254.90" y="189.30" font-size="8.6" text-anchor="end" font-weight="normal" fill="#000" >100</text>
<line x1="257.70" y1="314.30" x2="259.50" y2="314.30" stroke="#4a4a4a" stroke-width="1"/>
<line x1="257.70" y1="285.90" x2="259.50" y2="285.90" stroke="#4a4a4a" stroke-width="1"/>
<line x1="257.70" y1="257.50" x2="259.50" y2="257.50" stroke="#4a4a4a" stroke-width="1"/>
<line x1="257.70" y1="229.10" x2="259.50" y2="229.10" stroke="#4a4a4a" stroke-width="1"/>
<line x1="257.70" y1="200.70" x2="259.50" y2="200.70" stroke="#4a4a4a" stroke-width="1"/>
<text x="347.80" y="351.90" font-size="10" text-anchor="middle">Current density (mA cm<tspan dy="-3.8" font-size="7.00">-2</tspan><tspan dy="3.8">)</tspan></text>
<text transform="translate(239.30,257.80) rotate(-90)" font-size="10.25" text-anchor="middle">CO FE (%)</text>
<line x1="269.30" y1="292.90" x2="290.00" y2="292.90" stroke="#5E93D8" stroke-width="1.5"/>
<rect x="276.10" y="289.40" width="7" height="7" fill="#5E93D8"/>
<text x="292.40" y="296.00" font-size="8.6" text-anchor="start" font-weight="normal" fill="#000" >1 M K-Gly</text>
<line x1="269.30" y1="303.25" x2="290.00" y2="303.25" stroke="#6ACACA" stroke-width="1.5"/>
<circle cx="279.60" cy="303.25" r="3.5" fill="#6ACACA"/>
<text x="292.40" y="306.35" font-size="8.6" text-anchor="start" font-weight="normal" fill="#000" >1 M K-sarcosine</text>
<line x1="269.30" y1="313.60" x2="290.00" y2="313.60" stroke="#E8937F" stroke-width="1.5"/>
<polygon points="276.10,316.64 283.10,316.64 279.60,310.55" fill="#E8937F"/>
<text x="292.40" y="316.70" font-size="8.6" text-anchor="start" font-weight="normal" fill="#000" >1 M K-L-proline</text>
<text x="229.00" y="189.50" font-size="15.5" text-anchor="start" font-weight="bold" fill="#000" >e</text>
<rect x="489.35" y="231.81" width="9.4" height="96.69" fill="#EFB36C"/>
<rect x="519.05" y="221.23" width="9.4" height="107.27" fill="#EFB36C"/>
<rect x="548.75" y="227.94" width="9.4" height="100.56" fill="#EFB36C"/>
<rect x="578.45" y="244.59" width="9.4" height="83.91" fill="#EFB36C"/>
<rect x="608.15" y="259.44" width="9.4" height="69.06" fill="#EFB36C"/>
<rect x="637.85" y="270.93" width="9.4" height="57.57" fill="#EFB36C"/>
<rect x="499.85" y="289.51" width="9.3" height="38.99" fill="#72CBCF"/>
<rect x="529.55" y="289.51" width="9.3" height="38.99" fill="#72CBCF"/>
<rect x="559.25" y="299.71" width="9.3" height="28.79" fill="#72CBCF"/>
<rect x="588.95" y="305.52" width="9.3" height="22.98" fill="#72CBCF"/>
<rect x="618.65" y="311.85" width="9.3" height="16.65" fill="#72CBCF"/>
<rect x="648.35" y="315.59" width="9.3" height="12.91" fill="#72CBCF"/>
<path d="M499.25,250.68 L528.95,242.73 L558.65,234.21 L588.35,229.95 L618.05,225.98 L647.75,221.72" fill="none" stroke="#F5862A" stroke-width="1.5" stroke-linejoin="round"/>
<circle cx="499.25" cy="250.68" r="3.1" fill="#F5862A"/>
<circle cx="528.95" cy="242.73" r="3.1" fill="#F5862A"/>
<circle cx="558.65" cy="234.21" r="3.1" fill="#F5862A"/>
<circle cx="588.35" cy="229.95" r="3.1" fill="#F5862A"/>
<circle cx="618.05" cy="225.98" r="3.1" fill="#F5862A"/>
<circle cx="647.75" cy="221.72" r="3.1" fill="#F5862A"/>
<path d="M499.25,250.40 L528.95,241.60 L558.65,233.08 L588.35,225.69 L618.05,221.15 L647.75,216.04" fill="none" stroke="#6DCACF" stroke-width="1.5" stroke-linejoin="round"/>
<rect x="496.45" y="247.60" width="5.6" height="5.6" fill="#6DCACF"/>
<rect x="526.15" y="238.80" width="5.6" height="5.6" fill="#6DCACF"/>
<rect x="555.85" y="230.28" width="5.6" height="5.6" fill="#6DCACF"/>
<rect x="585.55" y="222.89" width="5.6" height="5.6" fill="#6DCACF"/>
<rect x="615.25" y="218.35" width="5.6" height="5.6" fill="#6DCACF"/>
<rect x="644.95" y="213.24" width="5.6" height="5.6" fill="#6DCACF"/>
<rect x="484.40" y="186.50" width="178.20" height="142.00" fill="none" stroke="#4a4a4a" stroke-width="1"/>
<line x1="499.25" y1="328.50" x2="499.25" y2="331.50" stroke="#4a4a4a" stroke-width="1"/>
<text x="499.25" y="341.00" font-size="8.6" text-anchor="middle" font-weight="normal" fill="#000" >50</text>
<line x1="528.95" y1="328.50" x2="528.95" y2="331.50" stroke="#4a4a4a" stroke-width="1"/>
<text x="528.95" y="341.00" font-size="8.6" text-anchor="middle" font-weight="normal" fill="#000" >100</text>
<line x1="558.65" y1="328.50" x2="558.65" y2="331.50" stroke="#4a4a4a" stroke-width="1"/>
<text x="558.65" y="341.00" font-size="8.6" text-anchor="middle" font-weight="normal" fill="#000" >150</text>
<line x1="588.35" y1="328.50" x2="588.35" y2="331.50" stroke="#4a4a4a" stroke-width="1"/>
<text x="588.35" y="341.00" font-size="8.6" text-anchor="middle" font-weight="normal" fill="#000" >200</text>
<line x1="618.05" y1="328.50" x2="618.05" y2="331.50" stroke="#4a4a4a" stroke-width="1"/>
<text x="618.05" y="341.00" font-size="8.6" text-anchor="middle" font-weight="normal" fill="#000" >250</text>
<line x1="647.75" y1="328.50" x2="647.75" y2="331.50" stroke="#4a4a4a" stroke-width="1"/>
<text x="647.75" y="341.00" font-size="8.6" text-anchor="middle" font-weight="normal" fill="#000" >300</text>
<line x1="484.40" y1="328.50" x2="484.40" y2="330.30" stroke="#4a4a4a" stroke-width="1"/>
<line x1="514.10" y1="328.50" x2="514.10" y2="330.30" stroke="#4a4a4a" stroke-width="1"/>
<line x1="543.80" y1="328.50" x2="543.80" y2="330.30" stroke="#4a4a4a" stroke-width="1"/>
<line x1="573.50" y1="328.50" x2="573.50" y2="330.30" stroke="#4a4a4a" stroke-width="1"/>
<line x1="603.20" y1="328.50" x2="603.20" y2="330.30" stroke="#4a4a4a" stroke-width="1"/>
<line x1="632.90" y1="328.50" x2="632.90" y2="330.30" stroke="#4a4a4a" stroke-width="1"/>
<line x1="662.60" y1="328.50" x2="662.60" y2="330.30" stroke="#4a4a4a" stroke-width="1"/>
<line x1="481.40" y1="328.50" x2="484.40" y2="328.50" stroke="#4a4a4a" stroke-width="1"/>
<text x="479.80" y="331.30" font-size="8.6" text-anchor="end" font-weight="normal" fill="#000" >0</text>
<line x1="481.40" y1="302.68" x2="484.40" y2="302.68" stroke="#4a4a4a" stroke-width="1"/>
<text x="479.80" y="305.48" font-size="8.6" text-anchor="end" font-weight="normal" fill="#000" >20</text>
<line x1="481.40" y1="276.86" x2="484.40" y2="276.86" stroke="#4a4a4a" stroke-width="1"/>
<text x="479.80" y="279.66" font-size="8.6" text-anchor="end" font-weight="normal" fill="#000" >40</text>
<line x1="481.40" y1="251.05" x2="484.40" y2="251.05" stroke="#4a4a4a" stroke-width="1"/>
<text x="479.80" y="253.85" font-size="8.6" text-anchor="end" font-weight="normal" fill="#000" >60</text>
<line x1="481.40" y1="225.23" x2="484.40" y2="225.23" stroke="#4a4a4a" stroke-width="1"/>
<text x="479.80" y="228.03" font-size="8.6" text-anchor="end" font-weight="normal" fill="#000" >80</text>
<line x1="481.40" y1="199.41" x2="484.40" y2="199.41" stroke="#4a4a4a" stroke-width="1"/>
<text x="479.80" y="202.21" font-size="8.6" text-anchor="end" font-weight="normal" fill="#000" >100</text>
<line x1="482.60" y1="315.59" x2="484.40" y2="315.59" stroke="#4a4a4a" stroke-width="1"/>
<line x1="482.60" y1="289.77" x2="484.40" y2="289.77" stroke="#4a4a4a" stroke-width="1"/>
<line x1="482.60" y1="263.95" x2="484.40" y2="263.95" stroke="#4a4a4a" stroke-width="1"/>
<line x1="482.60" y1="238.14" x2="484.40" y2="238.14" stroke="#4a4a4a" stroke-width="1"/>
<line x1="482.60" y1="212.32" x2="484.40" y2="212.32" stroke="#4a4a4a" stroke-width="1"/>
<line x1="662.60" y1="328.50" x2="665.60" y2="328.50" stroke="#4a4a4a" stroke-width="1"/>
<text x="666.40" y="331.30" font-size="8.6" text-anchor="start" font-weight="normal" fill="#000" >0</text>
<line x1="662.60" y1="300.10" x2="665.60" y2="300.10" stroke="#4a4a4a" stroke-width="1"/>
<text x="666.40" y="302.90" font-size="8.6" text-anchor="start" font-weight="normal" fill="#000" >1</text>
<line x1="662.60" y1="271.70" x2="665.60" y2="271.70" stroke="#4a4a4a" stroke-width="1"/>
<text x="666.40" y="274.50" font-size="8.6" text-anchor="start" font-weight="normal" fill="#000" >2</text>
<line x1="662.60" y1="243.30" x2="665.60" y2="243.30" stroke="#4a4a4a" stroke-width="1"/>
<text x="666.40" y="246.10" font-size="8.6" text-anchor="start" font-weight="normal" fill="#000" >3</text>
<line x1="662.60" y1="214.90" x2="665.60" y2="214.90" stroke="#4a4a4a" stroke-width="1"/>
<text x="666.40" y="217.70" font-size="8.6" text-anchor="start" font-weight="normal" fill="#000" >4</text>
<line x1="662.60" y1="186.50" x2="665.60" y2="186.50" stroke="#4a4a4a" stroke-width="1"/>
<text x="666.40" y="189.30" font-size="8.6" text-anchor="start" font-weight="normal" fill="#000" >5</text>
<line x1="662.60" y1="314.30" x2="664.40" y2="314.30" stroke="#4a4a4a" stroke-width="1"/>
<line x1="662.60" y1="285.90" x2="664.40" y2="285.90" stroke="#4a4a4a" stroke-width="1"/>
<line x1="662.60" y1="257.50" x2="664.40" y2="257.50" stroke="#4a4a4a" stroke-width="1"/>
<line x1="662.60" y1="229.10" x2="664.40" y2="229.10" stroke="#4a4a4a" stroke-width="1"/>
<line x1="662.60" y1="200.70" x2="664.40" y2="200.70" stroke="#4a4a4a" stroke-width="1"/>
<text x="573.00" y="353.40" font-size="10" text-anchor="middle">Current density (mA cm<tspan dy="-3.8" font-size="7.00">-2</tspan><tspan dy="3.8">)</tspan></text>
<text transform="translate(465.30,257.30) rotate(-90)" font-size="10.25" text-anchor="middle">CO FE (%)</text>
<text transform="translate(682,257.5) rotate(-90)" font-size="10" text-anchor="middle">E<tspan dy="2.5" font-size="7">cell</tspan><tspan dy="-2.5"> (V)</tspan></text>
<rect x="487.9" y="189.1" width="17.8" height="7.6" fill="#EFB36C"/>
<rect x="487.9" y="200.8" width="17.8" height="7.6" fill="#72CBCF"/>
<text x="508.20" y="196.40" font-size="8.15" text-anchor="start" font-weight="normal" fill="#000" >Simulated flue gas (15% CO<tspan dy="2" font-size="5.5">2</tspan><tspan dy="-2">, 10% O</tspan><tspan dy="2" font-size="5.5">2</tspan><tspan dy="-2">)</tspan></text>
<text x="508.20" y="207.60" font-size="8.15" text-anchor="start" font-weight="normal" fill="#000" >Air (400 ppm CO<tspan dy="2" font-size="5.5">2</tspan><tspan dy="-2">)</tspan></text>
<text x="488.00" y="217.50" font-size="8" text-anchor="start" font-weight="normal" fill="#000" >1 M K-Gly</text>
<path d="M641.6,212.6 C642.2,208 641.8,203.5 643.8,201 C646.5,198 651,197.3 657,197.1" fill="none" stroke="#000" stroke-width="1.25"/>
<polygon points="661.5,197.2 656,194.6 656,199.9" fill="#000"/>
<text x="456.00" y="190.00" font-size="15.5" text-anchor="start" font-weight="bold" fill="#000" >f</text></svg></body></html>
